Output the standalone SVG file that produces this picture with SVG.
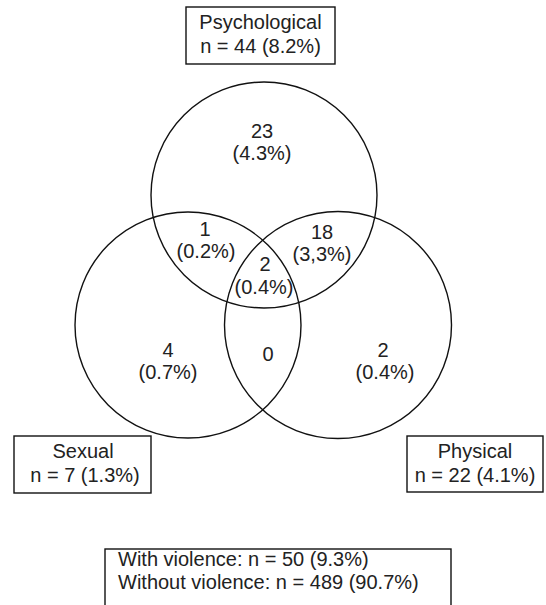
<svg xmlns="http://www.w3.org/2000/svg" width="546" height="605" viewBox="0 0 546 605">
<style>
.c{fill:none;stroke:#111;stroke-width:1.4}
.b{fill:#fff;stroke:#111;stroke-width:1.4}
text{font-family:"Liberation Sans",Arial,sans-serif;font-size:20px;fill:#222}
.m{text-anchor:middle}
</style>
<rect width="546" height="605" fill="#fff"/>
<g id="circles">
<circle id="psych-circle" class="c" cx="264" cy="195" r="113"/>
<circle id="sexual-circle" class="c" cx="188" cy="325" r="113"/>
<circle id="physical-circle" class="c" cx="338" cy="325" r="113.5"/>
</g>
<g id="regions">
<g id="r-psych"><text class="m" x="262" y="138">23</text><text class="m" x="262" y="160">(4.3%)</text></g>
<g id="r-psych-sex"><text class="m" x="205" y="236">1</text><text class="m" x="206" y="258">(0.2%)</text></g>
<g id="r-psych-phys"><text class="m" x="322" y="239">18</text><text class="m" x="322" y="261">(3,3%)</text></g>
<g id="r-all"><text class="m" x="265" y="271">2</text><text class="m" x="264" y="294">(0.4%)</text></g>
<g id="r-sex"><text class="m" x="168" y="357">4</text><text class="m" x="168" y="379">(0.7%)</text></g>
<g id="r-sex-phys"><text class="m" x="268" y="361">0</text></g>
<g id="r-phys"><text class="m" x="383" y="357">2</text><text class="m" x="385" y="379">(0.4%)</text></g>
</g>
<g id="label-psych"><rect class="b" x="186" y="7" width="149" height="57"/><text class="m" x="260.5" y="29">Psychological</text><text class="m" x="260.5" y="53">n = 44 (8.2%)</text></g>
<g id="label-sexual"><rect class="b" x="14" y="436" width="137" height="57"/><text class="m" x="83" y="458">Sexual</text><text class="m" x="85" y="482">n = 7 (1.3%)</text></g>
<g id="label-physical"><rect class="b" x="407" y="436" width="136" height="56"/><text class="m" x="475" y="458">Physical</text><text class="m" x="475" y="482">n = 22 (4.1%)</text></g>
<g id="label-total"><rect class="b" x="105" y="549" width="346" height="64"/><text x="118" y="566">With violence: n = 50 (9.3%)</text><text x="118" y="589">Without violence: n = 489 (90.7%)</text></g>
</svg>
